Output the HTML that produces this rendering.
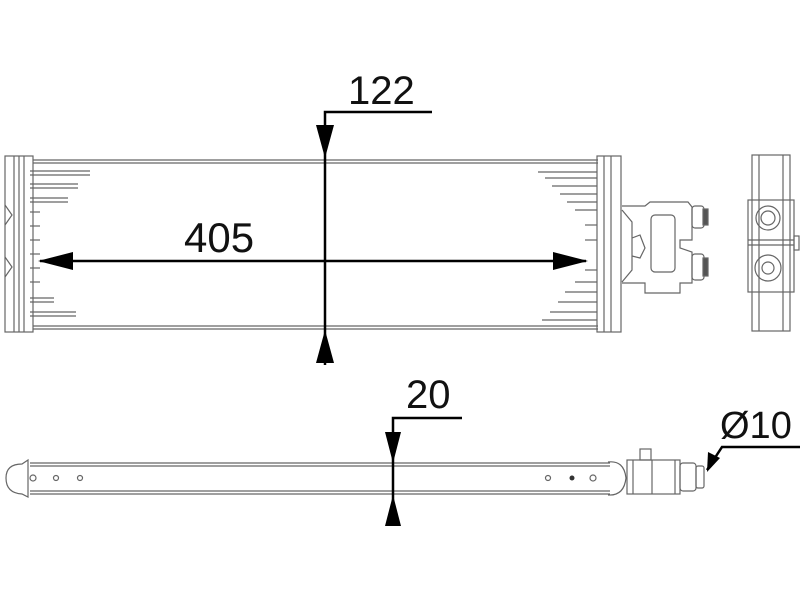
<!DOCTYPE html>
<html><head><meta charset="utf-8"><style>
html,body{margin:0;padding:0;background:#fff;}
svg{display:block;}
text{font-family:"Liberation Sans",sans-serif;fill:#111;}
</style></head><body>
<svg width="800" height="600" viewBox="0 0 800 600" xmlns="http://www.w3.org/2000/svg">
<rect width="800" height="600" fill="#fff"/>
<g fill="none" stroke="#666" stroke-width="1.2">
  <line x1="33" y1="160" x2="598" y2="160"/>
  <line x1="33" y1="163" x2="598" y2="163"/>
  <line x1="33" y1="326" x2="598" y2="326"/>
  <line x1="33" y1="329" x2="598" y2="329"/>
  <rect x="5" y="156" width="28" height="176"/>
  <line x1="14" y1="156" x2="14" y2="332"/>
  <line x1="19" y1="156" x2="19" y2="332"/>
  <line x1="24" y1="156" x2="24" y2="332"/>
  <path d="M5 205 L12 215 L5 225"/>
  <path d="M5 257 L12 267 L5 277"/>
  <line x1="30" y1="171" x2="90" y2="171"/><line x1="30" y1="175" x2="90" y2="175"/>
  <line x1="30" y1="184" x2="78" y2="184"/><line x1="30" y1="188" x2="78" y2="188"/>
  <line x1="30" y1="198" x2="68" y2="198"/><line x1="30" y1="202" x2="68" y2="202"/>
  <line x1="30" y1="212" x2="40" y2="212"/><line x1="30" y1="226" x2="40" y2="226"/>
  <line x1="30" y1="240" x2="40" y2="240"/><line x1="30" y1="254" x2="40" y2="254"/>
  <line x1="30" y1="268" x2="40" y2="268"/><line x1="30" y1="282" x2="40" y2="282"/>
  <line x1="30" y1="298" x2="54" y2="298"/><line x1="30" y1="302" x2="54" y2="302"/>
  <line x1="30" y1="312" x2="76" y2="312"/><line x1="30" y1="316" x2="76" y2="316"/>
  <rect x="597" y="156" width="24" height="176"/>
  <line x1="604" y1="156" x2="604" y2="332"/>
  <line x1="611" y1="156" x2="611" y2="332"/>
  <line x1="538" y1="172" x2="597" y2="172"/><line x1="545" y1="178" x2="597" y2="178"/>
  <line x1="552" y1="186" x2="597" y2="186"/><line x1="560" y1="194" x2="597" y2="194"/>
  <line x1="567" y1="202" x2="597" y2="202"/><line x1="575" y1="210" x2="597" y2="210"/>
  <line x1="585" y1="225" x2="597" y2="225"/><line x1="585" y1="240" x2="597" y2="240"/>
  <line x1="585" y1="270" x2="597" y2="270"/><line x1="575" y1="282" x2="597" y2="282"/>
  <line x1="565" y1="292" x2="597" y2="292"/><line x1="558" y1="302" x2="597" y2="302"/>
  <line x1="550" y1="312" x2="597" y2="312"/><line x1="542" y1="320" x2="597" y2="320"/>
  <path d="M622 206 L645 206 L650 202 L688 202 L692 207 L692 240 L680 240 L680 248 L692 252 L692 283 L680 283 L680 293 L645 293 L645 283 L622 283"/>
  <rect x="651" y="215" width="24" height="57" rx="4"/>
  <rect x="692" y="206" width="12" height="22" rx="3"/>
  <rect x="692" y="254" width="12" height="26" rx="3"/>
  <rect x="703" y="209" width="5" height="16" fill="#555"/>
  <rect x="703" y="258" width="5" height="18" fill="#555"/>
  <path d="M622 210 L632 222 L632 270 L622 282"/>
  <path d="M632 238 L640 235 L645 248 L640 258 L632 256"/>
  <rect x="752" y="155" width="38" height="176"/>
  <line x1="759" y1="155" x2="759" y2="331"/>
  <line x1="783" y1="155" x2="783" y2="331"/>
  <rect x="748" y="200" width="46" height="92"/>
  <circle cx="768" cy="218" r="12"/><circle cx="768" cy="218" r="7"/>
  <circle cx="768" cy="268" r="13"/><circle cx="768" cy="268" r="6"/>
  <line x1="748" y1="240" x2="794" y2="240"/><line x1="748" y1="245" x2="794" y2="245"/>
  <rect x="794" y="236" width="5" height="14"/>
  <line x1="30" y1="463" x2="610" y2="463"/><line x1="30" y1="466" x2="610" y2="466"/>
  <line x1="30" y1="491" x2="610" y2="491"/><line x1="30" y1="494" x2="610" y2="494"/>
  <path d="M22 464 Q6 464 6 478 Q6 493 22 494 L28 497 L28 460 Z"/>
  <path d="M608 462 Q624 460 626 478 Q624 496 608 495"/>
  <circle cx="33" cy="478" r="3"/><circle cx="56" cy="478" r="2.5"/><circle cx="80" cy="478" r="2.5"/>
  <circle cx="548" cy="478" r="2.5"/><circle cx="593" cy="478" r="3"/>
  <rect x="627" y="460" width="53" height="34"/>
  <line x1="633" y1="460" x2="633" y2="494"/><line x1="652" y1="460" x2="652" y2="494"/>
  <line x1="675" y1="460" x2="675" y2="494"/>
  <rect x="680" y="463" width="16" height="28" rx="3"/>
  <rect x="696" y="466" width="8" height="22" rx="2"/>
  <rect x="640" y="449" width="11" height="11"/>
</g>
<circle cx="572" cy="478" r="2.5" fill="#333"/>
<g stroke="#000" stroke-width="2.5" fill="none">
  <line x1="40" y1="261" x2="586" y2="261"/>
  <polyline points="325,365 325,112 432,112"/>
  <polyline points="393,525 393,418 462,418"/>
  <polyline points="707,470 722,447 800,447"/>
</g>
<g fill="#000">
  <polygon points="38,261 73,252 73,270"/>
  <polygon points="588,261 553,252 553,270"/>
  <polygon points="325,158 316,125 334,125"/>
  <polygon points="325,330 316,363 334,363"/>
  <polygon points="393,463 385,432 401,432"/>
  <polygon points="393,495 385,526 401,526"/>
  <polygon points="707,472 708,452 720,458"/>
</g>
<text x="184" y="252" font-size="42">405</text>
<text x="348" y="104" font-size="40">122</text>
<text x="406" y="408" font-size="40">20</text>
<text x="720" y="438" font-size="38">Ø10</text>
</svg>
</body></html>
